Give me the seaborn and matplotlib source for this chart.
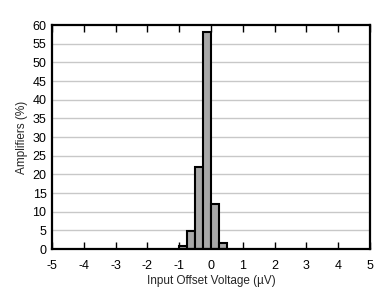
import matplotlib
matplotlib.use("Agg")
import matplotlib.pyplot as plt
import seaborn as sns
import numpy as np

bin_edges = [-1.0, -0.75, -0.5, -0.25, 0.0, 0.25, 0.5]
bin_centers = [-0.875, -0.625, -0.375, -0.125, 0.125, 0.375]
percent = [0.9, 4.9, 22.0, 58.2, 12.0, 1.5]
x_ticks = [-5, -4, -3, -2, -1, 0, 1, 2, 3, 4, 5]
y_ticks = [0, 5, 10, 15, 20, 25, 30, 35, 40, 45, 50, 55, 60]

sns.set_theme(style="white")
plt.rcParams['font.family'] = ['Liberation Sans', 'DejaVu Sans']

fig = plt.figure(figsize=(3.87, 2.98), dpi=100)
ax = fig.add_axes([52/387, 1-249/298, (370-52)/387, (249-25)/298])

for y in y_ticks[1:-1]:
    ax.axhline(y, color="#c8c8c8", lw=1.0, zorder=0)

sns.histplot(x=bin_centers, weights=percent, bins=bin_edges, ax=ax,
             color="#a8a8a8", edgecolor="black", linewidth=1.5, alpha=1, zorder=2)

ax.set_xlim(-5, 5)
ax.set_ylim(0, 60)
ax.set_xticks(x_ticks)
ax.set_yticks(y_ticks)
ax.set_xticklabels([str(t) for t in x_ticks], fontsize=9)
ax.set_yticklabels([str(t) for t in y_ticks], fontsize=9)
ax.tick_params(axis="x", direction="in", length=5, width=1, top=True, bottom=True, pad=8, colors="black")
ax.tick_params(axis="y", length=0, pad=4, colors="black")
for s in ax.spines.values():
    s.set_linewidth(1.6)
    s.set_color("black")
    s.set_zorder(3)
ax.set_xlabel("Input Offset Voltage (µV)", fontsize=8.5, labelpad=2)
ax.set_ylabel("Amplifiers (%)", fontsize=8.5, labelpad=3)

fig.savefig("out.png", dpi=100)
